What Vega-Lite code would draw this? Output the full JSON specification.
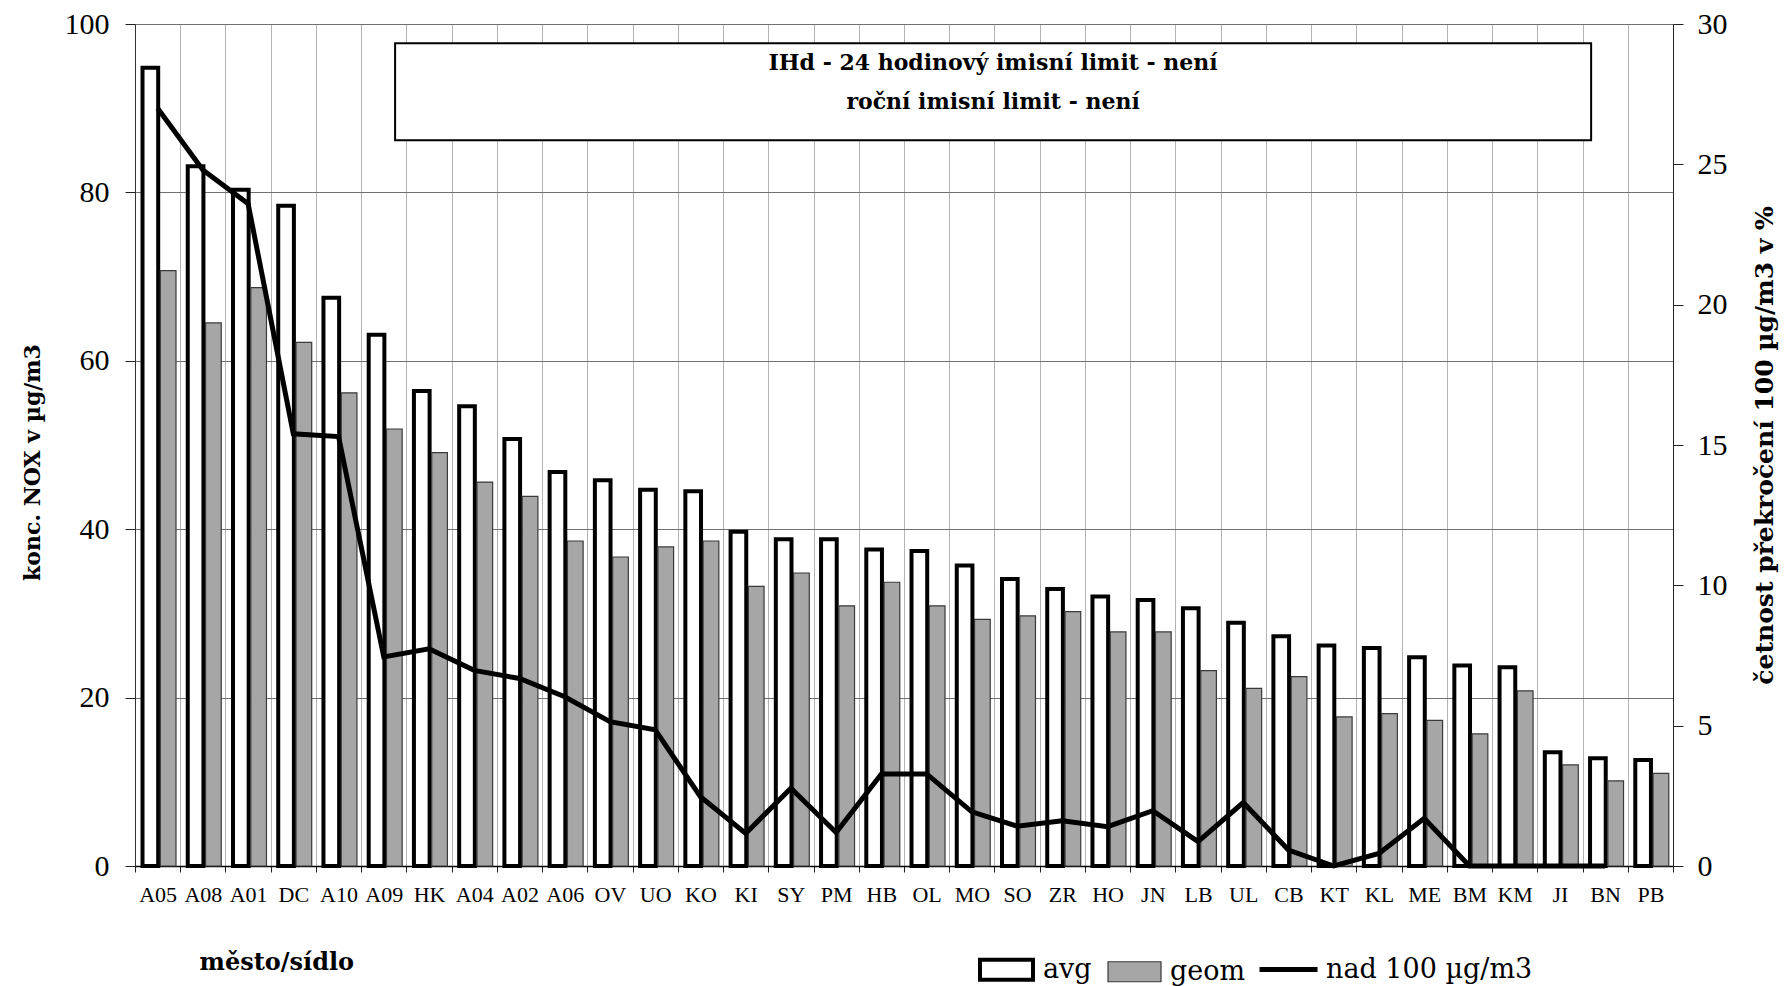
{
  "$schema": "https://vega.github.io/schema/vega-lite/v6.json",
  "width": 1538,
  "height": 842,
  "autosize": {"type": "none"},
  "padding": {"left": 135, "top": 24, "right": 113, "bottom": 120},
  "background": "white",
  "config": {
    "view": {"stroke": "#333333", "strokeWidth": 1},
    "axis": {"labelColor": "black", "titleColor": "black", "domainColor": "#222222", "tickColor": "#222222"}
  },
  "datasets": {
    "nox": [
      {"mesto": "A05", "rada": "avg", "konc": 94.8}, {"mesto": "A05", "rada": "geom", "konc": 70.7},
      {"mesto": "A08", "rada": "avg", "konc": 83.1}, {"mesto": "A08", "rada": "geom", "konc": 64.5},
      {"mesto": "A01", "rada": "avg", "konc": 80.3}, {"mesto": "A01", "rada": "geom", "konc": 68.7},
      {"mesto": "DC", "rada": "avg", "konc": 78.4}, {"mesto": "DC", "rada": "geom", "konc": 62.2},
      {"mesto": "A10", "rada": "avg", "konc": 67.5}, {"mesto": "A10", "rada": "geom", "konc": 56.2},
      {"mesto": "A09", "rada": "avg", "konc": 63.1}, {"mesto": "A09", "rada": "geom", "konc": 51.9},
      {"mesto": "HK", "rada": "avg", "konc": 56.4}, {"mesto": "HK", "rada": "geom", "konc": 49.1},
      {"mesto": "A04", "rada": "avg", "konc": 54.6}, {"mesto": "A04", "rada": "geom", "konc": 45.6},
      {"mesto": "A02", "rada": "avg", "konc": 50.7}, {"mesto": "A02", "rada": "geom", "konc": 43.9},
      {"mesto": "A06", "rada": "avg", "konc": 46.8}, {"mesto": "A06", "rada": "geom", "konc": 38.6},
      {"mesto": "OV", "rada": "avg", "konc": 45.8}, {"mesto": "OV", "rada": "geom", "konc": 36.7},
      {"mesto": "UO", "rada": "avg", "konc": 44.7}, {"mesto": "UO", "rada": "geom", "konc": 37.9},
      {"mesto": "KO", "rada": "avg", "konc": 44.5}, {"mesto": "KO", "rada": "geom", "konc": 38.6},
      {"mesto": "KI", "rada": "avg", "konc": 39.7}, {"mesto": "KI", "rada": "geom", "konc": 33.2},
      {"mesto": "SY", "rada": "avg", "konc": 38.8}, {"mesto": "SY", "rada": "geom", "konc": 34.8},
      {"mesto": "PM", "rada": "avg", "konc": 38.8}, {"mesto": "PM", "rada": "geom", "konc": 30.9},
      {"mesto": "HB", "rada": "avg", "konc": 37.6}, {"mesto": "HB", "rada": "geom", "konc": 33.7},
      {"mesto": "OL", "rada": "avg", "konc": 37.4}, {"mesto": "OL", "rada": "geom", "konc": 30.9},
      {"mesto": "MO", "rada": "avg", "konc": 35.7}, {"mesto": "MO", "rada": "geom", "konc": 29.3},
      {"mesto": "SO", "rada": "avg", "konc": 34.1}, {"mesto": "SO", "rada": "geom", "konc": 29.7},
      {"mesto": "ZR", "rada": "avg", "konc": 32.9}, {"mesto": "ZR", "rada": "geom", "konc": 30.2},
      {"mesto": "HO", "rada": "avg", "konc": 32.0}, {"mesto": "HO", "rada": "geom", "konc": 27.8},
      {"mesto": "JN", "rada": "avg", "konc": 31.6}, {"mesto": "JN", "rada": "geom", "konc": 27.8},
      {"mesto": "LB", "rada": "avg", "konc": 30.6}, {"mesto": "LB", "rada": "geom", "konc": 23.2},
      {"mesto": "UL", "rada": "avg", "konc": 28.9}, {"mesto": "UL", "rada": "geom", "konc": 21.1},
      {"mesto": "CB", "rada": "avg", "konc": 27.3}, {"mesto": "CB", "rada": "geom", "konc": 22.5},
      {"mesto": "KT", "rada": "avg", "konc": 26.2}, {"mesto": "KT", "rada": "geom", "konc": 17.7},
      {"mesto": "KL", "rada": "avg", "konc": 25.9}, {"mesto": "KL", "rada": "geom", "konc": 18.1},
      {"mesto": "ME", "rada": "avg", "konc": 24.8}, {"mesto": "ME", "rada": "geom", "konc": 17.3},
      {"mesto": "BM", "rada": "avg", "konc": 23.8}, {"mesto": "BM", "rada": "geom", "konc": 15.7},
      {"mesto": "KM", "rada": "avg", "konc": 23.6}, {"mesto": "KM", "rada": "geom", "konc": 20.8},
      {"mesto": "JI", "rada": "avg", "konc": 13.5}, {"mesto": "JI", "rada": "geom", "konc": 12.0},
      {"mesto": "BN", "rada": "avg", "konc": 12.8}, {"mesto": "BN", "rada": "geom", "konc": 10.1},
      {"mesto": "PB", "rada": "avg", "konc": 12.6}, {"mesto": "PB", "rada": "geom", "konc": 11.0}
    ],
    "cetnost": [
      {"mesto": "A05", "nad": 27.0}, {"mesto": "A08", "nad": 24.8}, {"mesto": "A01", "nad": 23.6},
      {"mesto": "DC", "nad": 15.4}, {"mesto": "A10", "nad": 15.3}, {"mesto": "A09", "nad": 7.45},
      {"mesto": "HK", "nad": 7.74}, {"mesto": "A04", "nad": 6.97}, {"mesto": "A02", "nad": 6.68},
      {"mesto": "A06", "nad": 6.03}, {"mesto": "OV", "nad": 5.14}, {"mesto": "UO", "nad": 4.85},
      {"mesto": "KO", "nad": 2.47}, {"mesto": "KI", "nad": 1.16}, {"mesto": "SY", "nad": 2.77},
      {"mesto": "PM", "nad": 1.19}, {"mesto": "HB", "nad": 3.28}, {"mesto": "OL", "nad": 3.28},
      {"mesto": "MO", "nad": 1.93}, {"mesto": "SO", "nad": 1.42}, {"mesto": "ZR", "nad": 1.61},
      {"mesto": "HO", "nad": 1.40}, {"mesto": "JN", "nad": 1.97}, {"mesto": "LB", "nad": 0.87},
      {"mesto": "UL", "nad": 2.26}, {"mesto": "CB", "nad": 0.57}, {"mesto": "KT", "nad": 0.0},
      {"mesto": "KL", "nad": 0.45}, {"mesto": "ME", "nad": 1.70}, {"mesto": "BM", "nad": 0.0},
      {"mesto": "KM", "nad": 0.0}, {"mesto": "JI", "nad": 0.0}, {"mesto": "BN", "nad": 0.0}
    ]
  },
  "layer": [
    {
      "layer": [
        {
          "data": {"name": "nox"},
          "mark": {"type": "bar", "width": {"band": 0.88}},
          "encoding": {
            "x": {
              "field": "mesto",
              "type": "nominal",
              "scale": {
                "domain": ["A05", "A08", "A01", "DC", "A10", "A09", "HK", "A04", "A02", "A06", "OV", "UO", "KO", "KI", "SY", "PM", "HB", "OL", "MO", "SO", "ZR", "HO", "JN", "LB", "UL", "CB", "KT", "KL", "ME", "BM", "KM", "JI", "BN", "PB"],
                "paddingInner": 0,
                "paddingOuter": 0
              },
              "axis": {
                "title": "město/sídlo",
                "tickBand": "extent",
                "grid": true,
                "gridColor": "#b4b4b4",
                "gridWidth": 1,
                "labelAngle": 0,
                "labelFont": "Liberation Serif",
                "labelFontSize": 22,
                "labelPadding": 12,
                "tickSize": 6,
                "domainColor": "#000000",
                "domainWidth": 1.5,
                "titleFont": "DejaVu Serif",
                "titleFontSize": 24,
                "titleFontWeight": "bold",
                "titleX": 64,
                "titleY": 96,
                "titleAlign": "left",
                "titleBaseline": "middle"
              }
            },
            "xOffset": {
              "field": "rada",
              "type": "nominal",
              "scale": {"domain": ["avg", "geom"], "paddingOuter": 0.27, "paddingInner": 0}
            },
            "y": {
              "field": "konc",
              "type": "quantitative",
              "scale": {"domain": [0, 100], "nice": false},
              "axis": {
                "title": "konc. NOX v µg/m3",
                "values": [0, 20, 40, 60, 80, 100],
                "grid": true,
                "gridColor": "#707070",
                "gridWidth": 1,
                "domainColor": "#333333",
                "tickSize": 10,
                "labelFont": "Liberation Serif",
                "labelFontSize": 30,
                "labelPadding": 16,
                "titleFont": "DejaVu Serif",
                "titleFontSize": 22,
                "titleFontWeight": "bold",
                "titleAngle": -90,
                "titleX": -103,
                "titleY": 438,
                "titleAlign": "center",
                "titleBaseline": "middle"
              }
            },
            "fill": {
              "field": "rada",
              "type": "nominal",
              "scale": {"domain": ["avg", "geom"], "range": ["#ffffff", "#a6a6a6"]},
              "legend": {
                "title": null,
                "orient": "none",
                "legendX": 843,
                "legendY": 917,
                "direction": "horizontal",
                "symbolType": "M-1,-0.377H1V0.377H-1Z",
                "symbolSize": 2809,
                "labelFont": "DejaVu Serif",
                "labelFontSize": 27,
                "labelColor": "black",
                "labelOffset": 8,
                "columnPadding": 13,
                "padding": 0,
                "encode": {
                  "symbols": {
                    "update": {
                      "stroke": [{"test": "datum.value === 'avg'", "value": "#000000"}, {"value": "#3a3a3a"}],
                      "strokeWidth": [{"test": "datum.value === 'avg'", "value": 4}, {"value": 1.2}]
                    }
                  }
                }
              }
            },
            "stroke": {
              "field": "rada",
              "type": "nominal",
              "scale": {"domain": ["avg", "geom"], "range": ["#000000", "#3a3a3a"]},
              "legend": null
            },
            "strokeWidth": {
              "field": "rada",
              "type": "nominal",
              "scale": {"type": "ordinal", "domain": ["avg", "geom"], "range": [4, 1.2]},
              "legend": null
            }
          }
        },
        {
          "data": {"name": "cetnost"},
          "mark": {"type": "line", "strokeWidth": 5, "strokeJoin": "miter"},
          "encoding": {
            "x": {"field": "mesto", "type": "nominal"},
            "y": {
              "field": "nad",
              "type": "quantitative",
              "scale": {"domain": [0, 30], "nice": false},
              "axis": {
                "orient": "right",
                "title": "četnost překročení 100 µg/m3 v %",
                "values": [0, 5, 10, 15, 20, 25, 30],
                "grid": false,
                "domainColor": "#222222",
                "tickSize": 10,
                "labelFont": "Liberation Serif",
                "labelFontSize": 30,
                "labelPadding": 14,
                "titleFont": "DejaVu Serif",
                "titleFontSize": 25,
                "titleFontWeight": "bold",
                "titleAngle": -90,
                "titleX": 91,
                "titleY": 421,
                "titleAlign": "center",
                "titleBaseline": "middle"
              }
            },
            "stroke": {
              "datum": "nad 100 µg/m3",
              "type": "nominal",
              "scale": {"range": ["#000000"]},
              "legend": {
                "title": null,
                "orient": "none",
                "legendX": 1122,
                "legendY": 914,
                "symbolType": "stroke",
                "symbolSize": 3364,
                "symbolStrokeWidth": 5,
                "labelFont": "DejaVu Serif",
                "labelFontSize": 27,
                "labelColor": "black",
                "labelOffset": 6,
                "labelLimit": 400,
                "padding": 0
              }
            }
          }
        }
      ],
      "resolve": {"scale": {"y": "independent", "stroke": "independent"}}
    },
    {
      "data": {"values": [{}]},
      "layer": [
        {
          "mark": {"type": "rect", "fill": "white", "stroke": "black", "strokeWidth": 2},
          "encoding": {
            "x": {"datum": 5.75, "type": "quantitative", "scale": {"domain": [0, 34], "nice": false, "zero": false}, "axis": null},
            "x2": {"datum": 32.19},
            "y": {"datum": 86.2, "type": "quantitative", "scale": {"domain": [0, 100], "nice": false}, "axis": null},
            "y2": {"datum": 97.7}
          }
        },
        {
          "mark": {"type": "text", "text": "IHd - 24 hodinový imisní limit - není", "font": "DejaVu Serif", "fontWeight": "bold", "fontSize": 22, "baseline": "middle", "align": "center", "color": "black"},
          "encoding": {
            "x": {"datum": 18.97, "type": "quantitative"},
            "y": {"datum": 95.4, "type": "quantitative"}
          }
        },
        {
          "mark": {"type": "text", "text": "roční imisní limit - není", "font": "DejaVu Serif", "fontWeight": "bold", "fontSize": 22, "baseline": "middle", "align": "center", "color": "black"},
          "encoding": {
            "x": {"datum": 18.97, "type": "quantitative"},
            "y": {"datum": 90.7, "type": "quantitative"}
          }
        }
      ]
    }
  ],
  "resolve": {"scale": {"x": "independent", "y": "independent"}}
}
